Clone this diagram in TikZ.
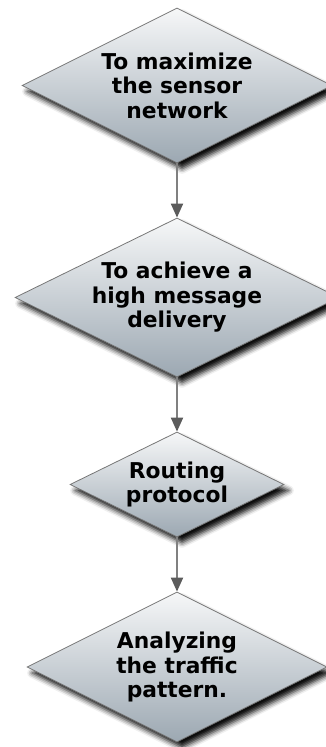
\documentclass[tikz,border=0pt]{standalone}
\usepackage{fontspec}
\setmainfont{DejaVu Sans}
\usetikzlibrary{shapes.geometric,arrows.meta,shadows.blur}

\definecolor{boxtop}{RGB}{246,247,248}
\definecolor{boxbottom}{RGB}{156,168,178}
\definecolor{boxline}{RGB}{118,118,118}
\definecolor{linkline}{RGB}{128,128,128}
\definecolor{linkhead}{RGB}{92,92,92}

\tikzset{
  decision/.style={
    diamond, aspect=2, draw=boxline, line width=0.8pt, inner sep=0pt,
    top color=boxtop, bottom color=boxbottom,
    align=center, font=\fontsize{21.8}{24.5}\selectfont\bfseries,
    blur shadow={shadow xshift=5pt, shadow yshift=-6pt,
                 shadow blur radius=5pt, shadow opacity=95}
  },
  link/.style={
    draw=linkline, line width=2pt,
    -{Triangle[length=14pt,width=12pt,fill=linkhead,color=linkhead]}
  }
}

\begin{document}
\begin{tikzpicture}[x=1pt,y=-1pt]
  \useasboundingbox (0,0) rectangle (326,747);
  \clip (0,0) rectangle (326,747);

  \node[decision, minimum width=310pt, minimum height=155pt] (goal)
    at (177,85.5) {To maximize\\the sensor\\network};
  \node[decision, minimum width=324pt, minimum height=159pt] (delivery)
    at (177,297.5) {To achieve a\\high message\\delivery};
  \node[decision, minimum width=214pt, minimum height=105pt] (routing)
    at (177,484.5) {Routing\\protocol};
  \node[decision, minimum width=300pt, minimum height=150pt] (traffic)
    at (177,667) {Analyzing\\the traffic\\pattern.};

  \draw[link] (goal.south) -- (delivery.north);
  \draw[link] (delivery.south) -- (routing.north);
  \draw[link] (routing.south) -- (traffic.north);
\end{tikzpicture}
\end{document}
